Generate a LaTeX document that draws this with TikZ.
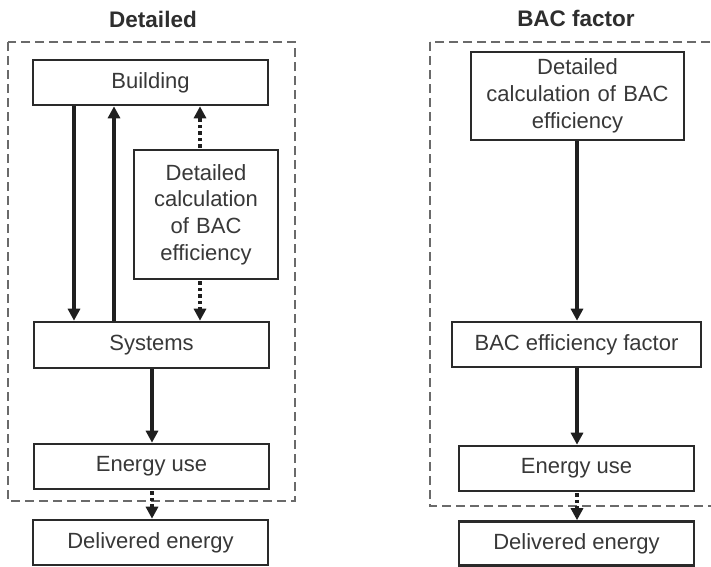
\documentclass[tikz,border=0pt]{standalone}
\usepackage{fontspec}
\setmainfont{Liberation Sans}
\usetikzlibrary{arrows.meta}
\definecolor{txt}{HTML}{383838}
\definecolor{edge}{HTML}{2A2A2A}
\definecolor{dash}{HTML}{6A6A6A}
\tikzset{
  box/.style={draw=edge, line width=2.6pt, inner sep=0pt, align=center, text=txt,
    font=\fontsize{22}{26.7}\selectfont},
  title/.style={text=black!82, font=\bfseries\fontsize{22.5}{26}\selectfont, inner sep=0pt},
  frame/.style={draw=dash, line width=1.7pt, dash pattern=on 9pt off 5pt},
  arr/.style={draw=black!88, line width=3.3pt, -{Triangle[width=12pt,length=12pt]}},
  dotarr/.style={draw=black!88, line width=3.6pt, dash pattern=on 3.5pt off 3pt,
    -{Triangle[width=12pt,length=12pt]}, shorten <=1pt}
}
\begin{document}
\begin{tikzpicture}[x=1pt,y=-1pt]
\useasboundingbox (0,0) rectangle (711,566);
\clip (0,0) rectangle (711,566);
\fill[white] (0,0) rectangle (711,566);

% titles
\node[title] (t1) at (153,19) {Detailed};
\node[title] (t2) at (576,18) {BAC factor};

% frames
\draw[frame] (8,42) rectangle (295,501);
\draw[frame] (430,42) rectangle (722,506);

% left column
\node[box, minimum width=235pt, minimum height=45pt] (building) at (150.5,82.5) {Building};
\node[box, minimum width=144pt, minimum height=129pt, text width=140pt] (calcL) at (206,214.5)
  {Detailed\\calculation\\of BAC\\efficiency};
\node[box, minimum width=235pt, minimum height=46pt] (systems) at (151.5,345) {Systems};
\node[box, minimum width=235pt, minimum height=45pt] (energyL) at (151.5,466.5) {Energy use};
\node[box, minimum width=235pt, minimum height=45pt] (delivL) at (150.5,542.5) {Delivered energy};

% right column
\node[box, minimum width=213pt, minimum height=88pt, text width=209pt] (calcR) at (577.5,96)
  {Detailed\\calculation of BAC\\efficiency};
\node[box, minimum width=249pt, minimum height=45pt] (bacf) at (576.5,344.5) {BAC efficiency factor};
\node[box, minimum width=235pt, minimum height=45pt] (energyR) at (576.5,468.5) {Energy use};
\node[box, minimum width=235pt, minimum height=44pt] (delivR) at (576.5,543.5) {Delivered energy};

% helper x positions
\coordinate (xa) at (74,0);
\coordinate (xb) at (114,0);
\coordinate (xc) at (200,0);
\coordinate (xd) at (152,0);
\coordinate (xe) at (577,0);

% left connectors
\draw[arr] (building.south -| xa) -- (systems.north -| xa);
\draw[arr] (systems.north -| xb) -- (building.south -| xb);
\draw[dotarr] (calcL.north -| xc) -- (building.south -| xc);
\draw[dotarr] (calcL.south -| xc) -- (systems.north -| xc);
\draw[arr] (systems.south -| xd) -- (energyL.north -| xd);
\draw[dotarr] (energyL.south -| xd) -- (delivL.north -| xd);

% right connectors
\draw[arr] (calcR.south -| xe) -- (bacf.north -| xe);
\draw[arr] (bacf.south -| xe) -- (energyR.north -| xe);
\draw[dotarr] (energyR.south -| xe) -- (delivR.north -| xe);
\end{tikzpicture}
\end{document}
